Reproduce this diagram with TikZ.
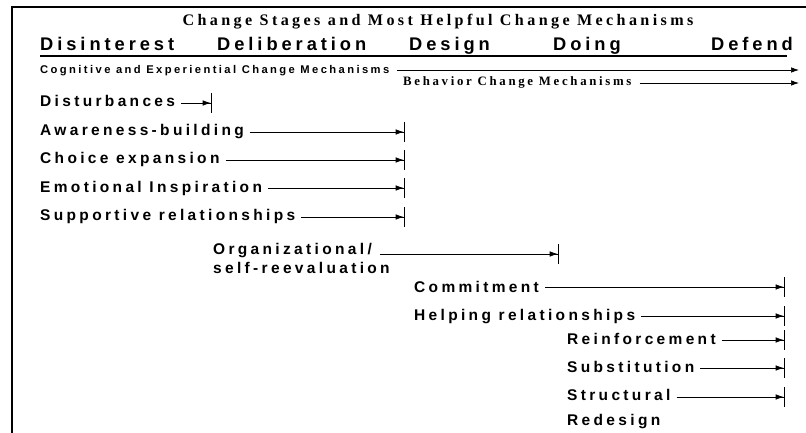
\documentclass[tikz,border=0pt]{standalone}
\usepackage{fontspec}
\setmainfont{Liberation Sans}
\newfontfamily\spacedsans[LetterSpace=21.5]{Liberation Sans}
\newfontfamily\spacedserif[LetterSpace=21]{Liberation Serif}
\usetikzlibrary{arrows.meta}

\tikzset{
	stage/.style={anchor=base west, inner sep=0pt, font=\spacedsans\bfseries\fontsize{18.3}{20}\selectfont},
	mech/.style={anchor=base west, inner sep=0pt, align=left, font=\spacedsans\bfseries\fontsize{15.5}{19}\selectfont},
	group/.style={anchor=base west, inner sep=0pt, font=\spacedsans\bfseries\fontsize{11.2}{12}\selectfont},
	flow/.style={line width=0.7pt, shorten <=6pt, -{Latex[length=8pt,width=5.5pt,sep=0pt]Bar[width=20pt,line width=1.3pt,sep=0pt]}},
	span/.style={line width=0.7pt, shorten <=8pt, -{Latex[length=8pt,width=5.5pt]}}
}

\begin{document}
\begin{tikzpicture}[x=1pt, y=-1pt]
	\useasboundingbox (0,0) rectangle (806,433);
	
	% frame
	\draw[line width=2pt] (806,7) -- (11.5,7) -- (11.5,433);
	
	\node[anchor=base, inner sep=0pt, font=\spacedserif\bfseries\fontsize{16.1}{18}\selectfont] (title) at (438,26) {Change Stages and Most Helpful Change Mechanisms};
	
	% stages
	\node[stage] (dis) at (40,51)     {Disinterest};
	\node[stage] (del) at (217,51)     {Deliberation};
	\node[stage] (des) at (409,51)     {Design};
	\node[stage] (doi) at (553,51)     {Doing};
	\node[stage] (def) at (711,51)     {Defend};
	\draw[line width=2.5pt] (40,56) -- (787,56);
	
	% groups of mechanisms
	\node[group] (cog) at (40,74)     {Cognitive and Experiential Change Mechanisms};
	\node[anchor=base west, inner sep=0pt, font=\spacedserif\bfseries\fontsize{12.8}{14}\selectfont] (beh) at (403,86)     {Behavior Change Mechanisms};
	\coordinate (cogend) at (799,70);
	\coordinate (behend) at (799,83);
	\path[span] (cog.east |- cogend) edge (cogend);
	\path[span] (beh.east |- behend) edge (behend);
	
	% mechanisms (multi-line ones sit on their last baseline)
	\node[mech] (dist) at (40,107)     {Disturbances};
	\node[mech] (aware) at (40,136)     {Awareness-building};
	\node[mech] (choice) at (40,164)     {Choice expansion};
	\node[mech] (emo) at (40,192)     {Emotional Inspiration};
	\node[mech] (supp) at (40,220)     {Supportive relationships};
	\node[mech] (org) at (213,273)     {Organizational/\\self-reevaluation};
	\node[mech] (comm) at (414,292)     {Commitment};
	\node[mech] (help) at (414,320)     {Helping relationships};
	\node[mech] (reinf) at (567,344)     {Reinforcement};
	\node[mech] (subst) at (567,372)     {Substitution};
	\node[mech, font=\spacedsans\bfseries\fontsize{15.5}{25}\selectfont] (struct) at (567,425)     {Structural\\Redesign};
	
	% where each mechanism stops
	\coordinate (bdist) at (212,103);
	\coordinate (baware) at (405,132);
	\coordinate (bchoice) at (405,160);
	\coordinate (bemo) at (405,188);
	\coordinate (bsupp) at (405,217);
	\coordinate (borg) at (559,254);
	\coordinate (bcomm) at (785,287);
	\coordinate (bhelp) at (785,316);
	\coordinate (breinf) at (785,340);
	\coordinate (bsubst) at (785,368);
	\coordinate (bstruct) at (785,397);
	
	\path[flow] (dist.east |- bdist) edge (bdist);
	\path[flow] (aware.east |- baware) edge (baware);
	\path[flow] (choice.east |- bchoice) edge (bchoice);
	\path[flow] (emo.east |- bemo) edge (bemo);
	\path[flow] (supp.east |- bsupp) edge (bsupp);
	% first line is the shorter one
	\path[flow] ([xshift=-16pt]org.east |- borg) edge (borg);
	\path[flow] (comm.east |- bcomm) edge (bcomm);
	\path[flow] (help.east |- bhelp) edge (bhelp);
	\path[flow] (reinf.east |- breinf) edge (breinf);
	\path[flow] (subst.east |- bsubst) edge (bsubst);
	\path[flow] (struct.east |- bstruct) edge (bstruct);
	
\end{tikzpicture}
\end{document}
